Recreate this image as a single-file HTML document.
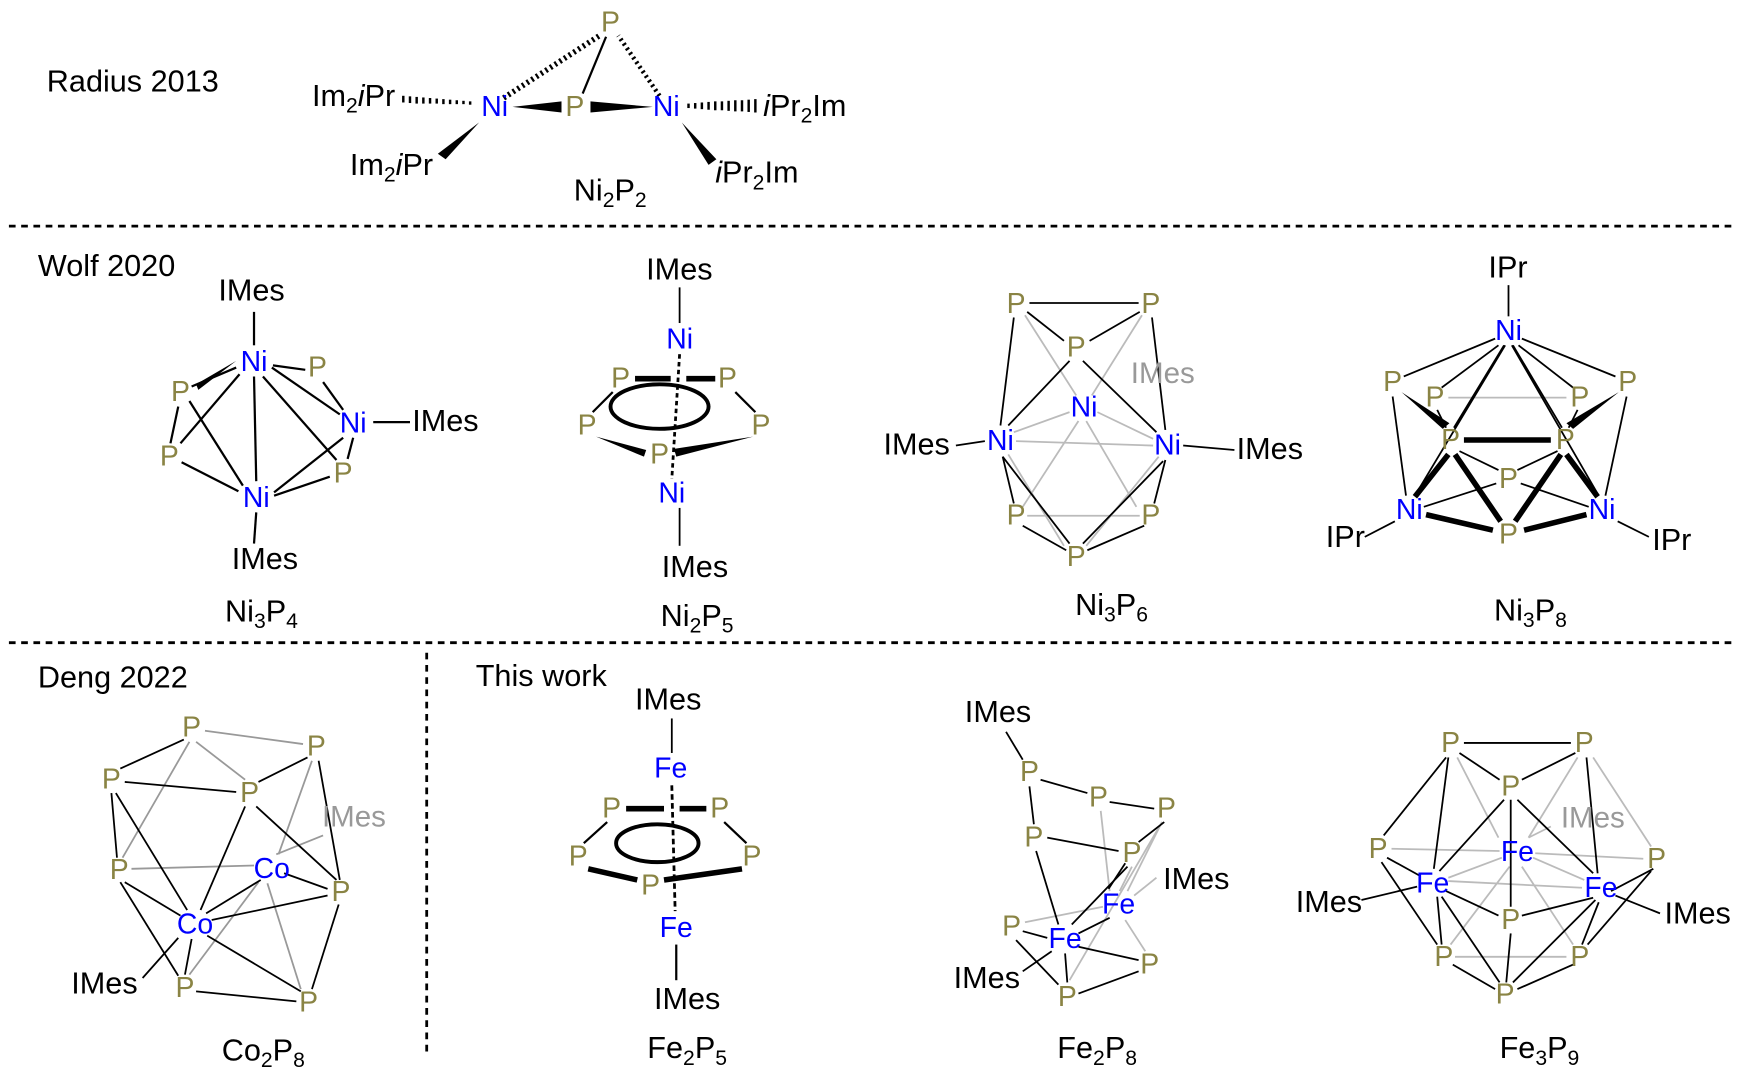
<!DOCTYPE html>
<html><head><meta charset="utf-8"><style>
html,body{margin:0;padding:0;background:#fff;}
svg{display:block;}
text{font-family:"Liberation Sans",Arial,sans-serif;}
.t{font-size:27.5px;fill:#000;}
.P{font-size:25.5px;fill:#8a8444;text-anchor:middle;dominant-baseline:central;}
.M{font-size:25.5px;fill:#0000ff;text-anchor:middle;dominant-baseline:central;}
.g{font-size:26.5px;fill:#999;}
.b{stroke:#000;stroke-width:2;fill:none;}
.k{stroke:#000;stroke-width:1.6;fill:none;}
.y{stroke:#bbb;stroke-width:1.6;fill:none;}
.d{stroke:#999;stroke-width:1.6;fill:none;}
.B{stroke:#000;stroke-width:5;fill:none;}
.sep{stroke:#000;stroke-width:2.5;stroke-dasharray:6 5;}
</style></head><body>
<svg width="1738" height="1076" viewBox="0 0 1560 966" preserveAspectRatio="none" xmlns="http://www.w3.org/2000/svg">
<line class="sep" x1="8" y1="203" x2="1558" y2="203"/>
<line class="sep" x1="8" y1="577" x2="1558" y2="577"/>
<line class="sep" x1="383" y1="586" x2="383" y2="945"/>

<!-- Radius 2013 -->
<text class="t" x="42" y="82">Radius 2013</text>
<g stroke="#000" stroke-width="2.2">
<line x1="362" y1="86" x2="362" y2="92"/><line x1="368" y1="86.5" x2="368" y2="92.5"/><line x1="374" y1="87" x2="374" y2="93"/><line x1="380" y1="87.5" x2="380" y2="93"/><line x1="386" y1="88" x2="386" y2="93"/><line x1="392" y1="88.5" x2="392" y2="93"/><line x1="398" y1="89" x2="398" y2="93.5"/><line x1="404" y1="89.5" x2="404" y2="93.5"/><line x1="410" y1="90" x2="410" y2="93.5"/><line x1="416" y1="90.5" x2="416" y2="93.5"/><line x1="422" y1="91" x2="422" y2="94"/>
<line x1="618" y1="93" x2="618" y2="97"/><line x1="624" y1="92.5" x2="624" y2="97.5"/><line x1="630" y1="92" x2="630" y2="98"/><line x1="636" y1="91.5" x2="636" y2="98.5"/><line x1="642" y1="91" x2="642" y2="99"/><line x1="648" y1="91" x2="648" y2="99"/><line x1="654" y1="90.5" x2="654" y2="99.5"/><line x1="660" y1="90" x2="660" y2="100"/><line x1="666" y1="90" x2="666" y2="100"/><line x1="672" y1="89.5" x2="672" y2="100.5"/><line x1="678" y1="89" x2="678" y2="101"/>
</g>
<line x1="452" y1="88" x2="538" y2="32" stroke="#000" stroke-width="5" stroke-dasharray="2 3"/>
<line x1="592" y1="86" x2="555" y2="32" stroke="#000" stroke-width="4" stroke-dasharray="2 3"/>
<line class="b" x1="523" y1="84" x2="544" y2="33"/>
<polygon points="460,96 504,91 504,101" fill="#000"/>
<polygon points="586,96 530,91 530,101" fill="#000"/>
<polygon points="430,110 393,138 400,143" fill="#000"/>
<polygon points="612,110 636,148 643,143" fill="#000"/>
<text class="P" x="548" y="20">P</text>
<text class="P" x="516" y="96">P</text>
<text class="M" x="444" y="96">Ni</text>
<text class="M" x="598" y="96">Ni</text>
<text class="t" x="280" y="95">Im<tspan font-size="19" dy="6">2</tspan><tspan dy="-6" font-style="italic">i</tspan>Pr</text>
<text class="t" x="314" y="157">Im<tspan font-size="19" dy="6">2</tspan><tspan dy="-6" font-style="italic">i</tspan>Pr</text>
<text class="t" x="685" y="104"><tspan font-style="italic">i</tspan>Pr<tspan font-size="19" dy="6">2</tspan><tspan dy="-6">Im</tspan></text>
<text class="t" x="642" y="164"><tspan font-style="italic">i</tspan>Pr<tspan font-size="19" dy="6">2</tspan><tspan dy="-6">Im</tspan></text>
<text class="t" x="515" y="180">Ni<tspan font-size="19" dy="6">2</tspan><tspan dy="-6">P</tspan><tspan font-size="19" dy="6">2</tspan></text>

<!-- Wolf 2020 -->
<text class="t" x="34" y="248">Wolf 2020</text>
<g class="b">
<line x1="228" y1="280" x2="228" y2="310"/>
<line x1="245" y1="328" x2="274" y2="332"/>
<line x1="244" y1="330" x2="305" y2="372"/>
<line x1="212" y1="330" x2="172" y2="347"/>
<line x1="215" y1="336" x2="162" y2="398"/>
<line x1="228" y1="338" x2="230" y2="432"/>
<line x1="236" y1="338" x2="302" y2="413"/>
<line x1="160" y1="365" x2="153" y2="398"/>
<line x1="170" y1="360" x2="218" y2="436"/>
<line x1="163" y1="415" x2="214" y2="441"/>
<line x1="290" y1="343" x2="308" y2="368"/>
<line x1="317" y1="393" x2="312" y2="412"/>
<line x1="246" y1="442" x2="308" y2="393"/>
<line x1="246" y1="445" x2="296" y2="428"/>
<line x1="335" y1="379" x2="368" y2="379"/>
<line x1="230" y1="460" x2="228" y2="488"/>
</g>
<polygon points="212,324 176,345 178,350" fill="#000"/>
<text class="t" x="196" y="270">IMes</text>
<text class="M" x="228" y="325">Ni</text>
<text class="P" x="285" y="330">P</text>
<text class="P" x="162" y="352">P</text>
<text class="M" x="317" y="380">Ni</text>
<text class="t" x="370" y="387">IMes</text>
<text class="P" x="152" y="410">P</text>
<text class="P" x="308" y="425">P</text>
<text class="M" x="230" y="447">Ni</text>
<text class="t" x="208" y="511">IMes</text>
<text class="t" x="202" y="558">Ni<tspan font-size="19" dy="6">3</tspan><tspan dy="-6">P</tspan><tspan font-size="19" dy="6">4</tspan></text>

<!-- Ni2P5 -->
<line class="k" x1="610" y1="258" x2="610" y2="290"/>
<line x1="610" y1="318" x2="603" y2="430" stroke="#000" stroke-width="2.5" stroke-dasharray="4 3"/>
<line class="B" x1="570" y1="340" x2="602" y2="340"/>
<line class="B" x1="616" y1="340" x2="642" y2="340"/>
<line class="b" x1="550" y1="352" x2="532" y2="370"/>
<line class="b" x1="660" y1="352" x2="678" y2="370"/>
<polygon points="535,392 580,404 578,410" fill="#000"/>
<polygon points="676,392 605,403 607,410" fill="#000"/>
<ellipse cx="592" cy="365" rx="44" ry="20" stroke="#000" stroke-width="3.5" fill="none"/>
<line class="k" x1="610" y1="456" x2="610" y2="490"/>
<text class="t" x="580" y="251">IMes</text>
<text class="M" x="610" y="305">Ni</text>
<text class="P" x="557" y="340">P</text>
<text class="P" x="653" y="340">P</text>
<text class="P" x="527" y="382">P</text>
<text class="P" x="683" y="382">P</text>
<text class="P" x="592" y="408">P</text>
<text class="M" x="603" y="443">Ni</text>
<text class="t" x="594" y="518">IMes</text>
<text class="t" x="593" y="562">Ni<tspan font-size="19" dy="6">2</tspan><tspan dy="-6">P</tspan><tspan font-size="19" dy="6">5</tspan></text>

<!-- Ni3P6 -->
<g class="y">
<line x1="920" y1="283" x2="966" y2="355"/>
<line x1="1025" y1="283" x2="980" y2="355"/>
<line x1="912" y1="396" x2="1035" y2="400"/>
<line x1="910" y1="388" x2="960" y2="370"/>
<line x1="985" y1="370" x2="1035" y2="394"/>
<line x1="922" y1="463" x2="1023" y2="463"/>
<line x1="905" y1="408" x2="955" y2="490"/>
<line x1="1040" y1="410" x2="975" y2="490"/>
<line x1="975" y1="378" x2="1020" y2="455"/>
<line x1="968" y1="378" x2="918" y2="455"/>
</g>
<g class="k">
<line x1="924" y1="272" x2="1022" y2="272"/>
<line x1="922" y1="280" x2="955" y2="306"/>
<line x1="1023" y1="280" x2="978" y2="306"/>
<line x1="910" y1="285" x2="898" y2="382"/>
<line x1="1034" y1="285" x2="1046" y2="386"/>
<line x1="960" y1="324" x2="905" y2="382"/>
<line x1="972" y1="324" x2="1038" y2="388"/>
<line x1="900" y1="410" x2="910" y2="452"/>
<line x1="1046" y1="413" x2="1036" y2="452"/>
<line x1="900" y1="410" x2="960" y2="488"/>
<line x1="1044" y1="414" x2="972" y2="488"/>
<line x1="918" y1="472" x2="957" y2="494"/>
<line x1="1027" y1="472" x2="976" y2="494"/>
<line x1="858" y1="400" x2="884" y2="396"/>
<line x1="1062" y1="400" x2="1108" y2="404"/>
</g>
<text class="P" x="912" y="273">P</text>
<text class="P" x="1033" y="273">P</text>
<text class="P" x="966" y="312">P</text>
<text class="g" x="1015" y="344">IMes</text>
<text class="M" x="973" y="366">Ni</text>
<text class="M" x="898" y="396">Ni</text>
<text class="t" x="793" y="408">IMes</text>
<text class="M" x="1048" y="400">Ni</text>
<text class="t" x="1110" y="412">IMes</text>
<text class="P" x="912" y="463">P</text>
<text class="P" x="1033" y="463">P</text>
<text class="P" x="966" y="500">P</text>
<text class="t" x="965" y="552">Ni<tspan font-size="19" dy="6">3</tspan><tspan dy="-6">P</tspan><tspan font-size="19" dy="6">6</tspan></text>

<!-- Ni3P8 -->
<line class="y" x1="1300" y1="357" x2="1406" y2="357"/>
<g class="k">
<line x1="1354" y1="256" x2="1354" y2="284"/>
<line x1="1342" y1="304" x2="1260" y2="338"/>
<line x1="1366" y1="304" x2="1450" y2="338"/>
<line x1="1345" y1="310" x2="1294" y2="348"/>
<line x1="1363" y1="310" x2="1412" y2="348"/>
<line x1="1350" y1="310" x2="1305" y2="384"/>
<line x1="1358" y1="310" x2="1402" y2="384"/>
<line x1="1351" y1="310" x2="1270" y2="445"/>
<line x1="1357" y1="310" x2="1435" y2="445"/>
<line x1="1250" y1="356" x2="1262" y2="445"/>
<line x1="1460" y1="356" x2="1441" y2="445"/>
<line x1="1290" y1="368" x2="1298" y2="384"/>
<line x1="1416" y1="368" x2="1408" y2="384"/>
<line x1="1310" y1="405" x2="1345" y2="422"/>
<line x1="1398" y1="405" x2="1362" y2="422"/>
<line x1="1343" y1="434" x2="1278" y2="455"/>
<line x1="1365" y1="434" x2="1426" y2="455"/>
<line x1="1252" y1="468" x2="1225" y2="482"/>
<line x1="1452" y1="468" x2="1480" y2="482"/>
</g>
<g class="B">
<line x1="1314" y1="395" x2="1392" y2="395"/>
<line x1="1300" y1="408" x2="1270" y2="446"/>
<line x1="1406" y1="408" x2="1434" y2="446"/>
<line x1="1306" y1="408" x2="1347" y2="468"/>
<line x1="1401" y1="408" x2="1360" y2="468"/>
<line x1="1280" y1="462" x2="1340" y2="476"/>
<line x1="1424" y1="462" x2="1368" y2="476"/>
</g>
<polygon points="1258,352 1295,385 1301,380" fill="#000"/>
<polygon points="1453,352 1412,385 1406,380" fill="#000"/>
<text class="t" x="1336" y="249">IPr</text>
<text class="M" x="1354" y="297">Ni</text>
<text class="P" x="1250" y="343">P</text>
<text class="P" x="1461" y="343">P</text>
<text class="P" x="1288" y="357">P</text>
<text class="P" x="1418" y="357">P</text>
<text class="P" x="1302" y="395">P</text>
<text class="P" x="1405" y="395">P</text>
<text class="P" x="1354" y="430">P</text>
<text class="M" x="1265" y="458">Ni</text>
<text class="M" x="1438" y="458">Ni</text>
<text class="P" x="1354" y="480">P</text>
<text class="t" x="1190" y="491">IPr</text>
<text class="t" x="1483" y="494">IPr</text>
<text class="t" x="1341" y="557">Ni<tspan font-size="19" dy="6">3</tspan><tspan dy="-6">P</tspan><tspan font-size="19" dy="6">8</tspan></text>

<!-- Deng 2022 Co2P8 -->
<text class="t" x="34" y="617">Deng 2022</text>
<g class="d">
<line x1="184" y1="656" x2="272" y2="668"/>
<line x1="170" y1="666" x2="110" y2="770"/>
<line x1="176" y1="666" x2="220" y2="700"/>
<line x1="280" y1="683" x2="250" y2="767"/>
<line x1="118" y1="780" x2="228" y2="777"/>
<line x1="240" y1="793" x2="270" y2="888"/>
<line x1="232" y1="792" x2="170" y2="875"/>
<line x1="248" y1="767" x2="290" y2="750"/>
</g>
<g class="k">
<line x1="165" y1="664" x2="108" y2="690"/>
<line x1="276" y1="680" x2="232" y2="702"/>
<line x1="112" y1="702" x2="212" y2="711"/>
<line x1="100" y1="712" x2="105" y2="770"/>
<line x1="104" y1="712" x2="168" y2="817"/>
<line x1="220" y1="724" x2="180" y2="817"/>
<line x1="230" y1="724" x2="302" y2="790"/>
<line x1="286" y1="683" x2="305" y2="790"/>
<line x1="112" y1="792" x2="162" y2="822"/>
<line x1="108" y1="792" x2="160" y2="876"/>
<line x1="190" y1="826" x2="294" y2="804"/>
<line x1="185" y1="820" x2="234" y2="790"/>
<line x1="255" y1="784" x2="294" y2="798"/>
<line x1="172" y1="843" x2="166" y2="875"/>
<line x1="186" y1="840" x2="270" y2="890"/>
<line x1="304" y1="812" x2="280" y2="888"/>
<line x1="176" y1="890" x2="266" y2="899"/>
<line x1="160" y1="842" x2="128" y2="878"/>
</g>
<text class="P" x="172" y="653">P</text>
<text class="P" x="284" y="670">P</text>
<text class="P" x="100" y="700">P</text>
<text class="P" x="224" y="712">P</text>
<text class="g" x="289" y="742">IMes</text>
<text class="P" x="107" y="781">P</text>
<text class="M" x="244" y="780">Co</text>
<text class="P" x="306" y="801">P</text>
<text class="M" x="175" y="830">Co</text>
<text class="t" x="64" y="892">IMes</text>
<text class="P" x="166" y="887">P</text>
<text class="P" x="277" y="900">P</text>
<text class="t" x="199" y="952">Co<tspan font-size="19" dy="6">2</tspan><tspan dy="-6">P</tspan><tspan font-size="19" dy="6">8</tspan></text>

<!-- This work Fe2P5 -->
<text class="t" x="427" y="616">This work</text>
<line class="k" x1="603" y1="645" x2="603" y2="676"/>
<line x1="603" y1="705" x2="606" y2="818" stroke="#000" stroke-width="2.5" stroke-dasharray="5 3"/>
<line class="B" x1="562" y1="726" x2="596" y2="726"/>
<line class="B" x1="610" y1="726" x2="634" y2="726"/>
<line class="b" x1="545" y1="738" x2="524" y2="757"/>
<line class="b" x1="650" y1="738" x2="670" y2="757"/>
<line class="B" x1="528" y1="780" x2="572" y2="790"/>
<line class="B" x1="596" y1="790" x2="666" y2="780"/>
<ellipse cx="590" cy="757" rx="37" ry="17" stroke="#000" stroke-width="3.5" fill="none"/>
<line class="b" x1="607" y1="848" x2="607" y2="880"/>
<text class="t" x="570" y="637">IMes</text>
<text class="M" x="602" y="690">Fe</text>
<text class="P" x="549" y="726">P</text>
<text class="P" x="646" y="726">P</text>
<text class="P" x="519" y="769">P</text>
<text class="P" x="675" y="769">P</text>
<text class="P" x="584" y="795">P</text>
<text class="M" x="607" y="833">Fe</text>
<text class="t" x="587" y="906">IMes</text>
<text class="t" x="581" y="950">Fe<tspan font-size="19" dy="6">2</tspan><tspan dy="-6">P</tspan><tspan font-size="19" dy="6">5</tspan></text>

<!-- Fe2P8 -->
<g class="y">
<line x1="988" y1="728" x2="996" y2="800"/>
<line x1="1043" y1="738" x2="1012" y2="800"/>
<line x1="1043" y1="738" x2="960" y2="880"/>
<line x1="920" y1="828" x2="990" y2="814"/>
<line x1="1010" y1="826" x2="1028" y2="854"/>
<line x1="1016" y1="778" x2="1005" y2="800"/>
<line x1="1038" y1="788" x2="1018" y2="804"/>
</g>
<g class="k">
<line x1="903" y1="657" x2="918" y2="682"/>
<line x1="934" y1="700" x2="976" y2="712"/>
<line x1="996" y1="720" x2="1036" y2="726"/>
<line x1="924" y1="706" x2="928" y2="740"/>
<line x1="940" y1="752" x2="1004" y2="764"/>
<line x1="1045" y1="738" x2="1022" y2="756"/>
<line x1="930" y1="764" x2="950" y2="830"/>
<line x1="1012" y1="778" x2="962" y2="830"/>
<line x1="1010" y1="775" x2="995" y2="798"/>
<line x1="996" y1="824" x2="968" y2="838"/>
<line x1="918" y1="836" x2="940" y2="842"/>
<line x1="912" y1="844" x2="950" y2="884"/>
<line x1="968" y1="850" x2="1022" y2="862"/>
<line x1="956" y1="856" x2="958" y2="882"/>
<line x1="1022" y1="872" x2="968" y2="892"/>
<line x1="944" y1="854" x2="918" y2="872"/>
</g>
<text class="t" x="866" y="648">IMes</text>
<text class="P" x="924" y="693">P</text>
<text class="P" x="986" y="716">P</text>
<text class="P" x="1047" y="726">P</text>
<text class="P" x="928" y="752">P</text>
<text class="P" x="1016" y="766">P</text>
<text class="t" x="1044" y="798">IMes</text>
<text class="M" x="1004" y="812">Fe</text>
<text class="P" x="908" y="832">P</text>
<text class="M" x="956" y="843">Fe</text>
<text class="P" x="1032" y="866">P</text>
<text class="t" x="856" y="887">IMes</text>
<text class="P" x="958" y="895">P</text>
<text class="t" x="949" y="950">Fe<tspan font-size="19" dy="6">2</tspan><tspan dy="-6">P</tspan><tspan font-size="19" dy="6">8</tspan></text>

<!-- Fe3P9 -->
<g class="y">
<line x1="1308" y1="680" x2="1345" y2="752"/>
<line x1="1416" y1="680" x2="1372" y2="752"/>
<line x1="1430" y1="680" x2="1482" y2="760"/>
<line x1="1249" y1="762" x2="1346" y2="764"/>
<line x1="1378" y1="766" x2="1475" y2="771"/>
<line x1="1300" y1="791" x2="1420" y2="797"/>
<line x1="1300" y1="788" x2="1348" y2="770"/>
<line x1="1376" y1="770" x2="1422" y2="790"/>
<line x1="1355" y1="778" x2="1302" y2="848"/>
<line x1="1366" y1="778" x2="1412" y2="848"/>
<line x1="1306" y1="859" x2="1406" y2="859"/>
<line x1="1372" y1="752" x2="1392" y2="742"/>
</g>
<g class="k">
<line x1="1314" y1="667" x2="1410" y2="667"/>
<line x1="1310" y1="676" x2="1346" y2="700"/>
<line x1="1414" y1="676" x2="1366" y2="700"/>
<line x1="1298" y1="680" x2="1242" y2="750"/>
<line x1="1300" y1="680" x2="1287" y2="780"/>
<line x1="1424" y1="680" x2="1434" y2="784"/>
<line x1="1350" y1="718" x2="1292" y2="782"/>
<line x1="1362" y1="718" x2="1430" y2="784"/>
<line x1="1356" y1="718" x2="1356" y2="814"/>
<line x1="1245" y1="770" x2="1274" y2="786"/>
<line x1="1240" y1="774" x2="1290" y2="848"/>
<line x1="1484" y1="780" x2="1446" y2="800"/>
<line x1="1482" y1="782" x2="1425" y2="848"/>
<line x1="1290" y1="805" x2="1294" y2="848"/>
<line x1="1298" y1="800" x2="1345" y2="822"/>
<line x1="1430" y1="806" x2="1366" y2="822"/>
<line x1="1435" y1="810" x2="1420" y2="848"/>
<line x1="1294" y1="805" x2="1346" y2="882"/>
<line x1="1432" y1="808" x2="1358" y2="882"/>
<line x1="1356" y1="838" x2="1352" y2="882"/>
<line x1="1304" y1="866" x2="1342" y2="888"/>
<line x1="1412" y1="866" x2="1362" y2="888"/>
<line x1="1222" y1="808" x2="1272" y2="796"/>
<line x1="1450" y1="804" x2="1490" y2="820"/>
</g>
<text class="P" x="1302" y="667">P</text>
<text class="P" x="1422" y="667">P</text>
<text class="P" x="1356" y="706">P</text>
<text class="g" x="1401" y="743">IMes</text>
<text class="P" x="1237" y="762">P</text>
<text class="P" x="1487" y="771">P</text>
<text class="M" x="1362" y="765">Fe</text>
<text class="M" x="1286" y="793">Fe</text>
<text class="M" x="1437" y="797">Fe</text>
<text class="t" x="1163" y="819">IMes</text>
<text class="t" x="1494" y="829">IMes</text>
<text class="P" x="1356" y="826">P</text>
<text class="P" x="1296" y="859">P</text>
<text class="P" x="1418" y="859">P</text>
<text class="P" x="1351" y="893">P</text>
<text class="t" x="1346" y="950">Fe<tspan font-size="19" dy="6">3</tspan><tspan dy="-6">P</tspan><tspan font-size="19" dy="6">9</tspan></text>
</svg>
</body></html>
